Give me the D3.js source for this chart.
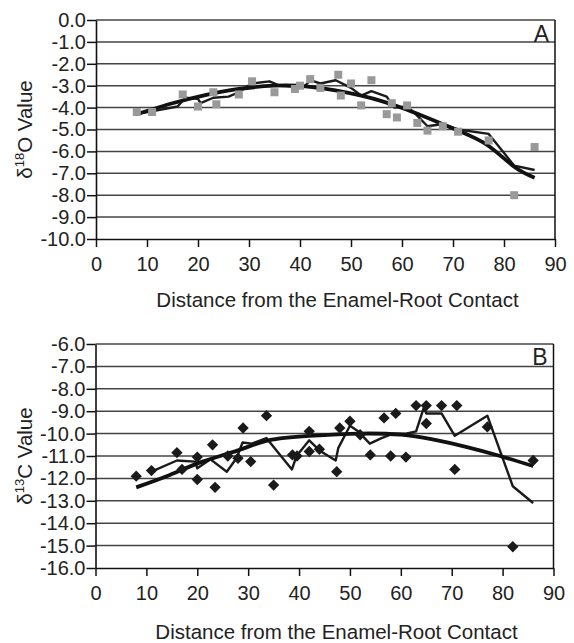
<!DOCTYPE html>
<html>
<head>
<meta charset="utf-8">
<script src="https://cdn.jsdelivr.net/npm/d3@7"></script>
<style>
  body { margin: 0; background: #fff; }
  svg text { font-family: "Liberation Sans", Arial, sans-serif; fill: #222; }
</style>
</head>
<body>
<svg id="chart" width="574" height="643"></svg>
<script>
// x ticks shared by both panels
const xTicks = [0, 10, 20, 30, 40, 50, 60, 70, 80, 90];

// Panel A - d18O samples (gray squares)
const distA = [8, 11, 17, 20, 23, 23.6, 28, 30.6, 35, 39, 40, 42, 44, 47.5, 48, 50, 52, 54, 57, 58, 59, 61, 63, 65, 68, 71, 77, 82, 86];
const d18O = [-4.2, -4.2, -3.4, -3.95, -3.3, -3.85, -3.4, -2.8, -3.3, -3.15, -3.0, -2.7, -3.1, -2.5, -3.45, -2.9, -3.9, -2.75, -4.3, -3.8, -4.45, -3.9, -4.7, -5.05, -4.85, -5.1, -5.5, -8.0, -5.8];

// Panel A - moving average line (thin)
const avgAx = [8, 16, 17.5, 20, 20.5, 23, 26, 28, 30.5, 34, 36, 39, 41, 42, 44, 47, 50, 52, 54, 57, 58.5, 61, 62.5, 65, 68, 71, 77, 82, 86];
const avgAy = [-4.3, -3.95, -3.55, -3.6, -3.8, -3.55, -3.5, -3.3, -2.9, -2.8, -3.0, -3.05, -3.0, -2.75, -2.9, -2.75, -3.1, -3.45, -3.25, -3.5, -4.0, -3.95, -4.25, -4.85, -4.75, -5.0, -5.2, -6.65, -6.85];

// Panel A - trend curve (thick)
const trendAx = [8, 15, 21, 28, 35, 42, 52, 61, 71, 77, 82, 86];
const trendAy = [-4.3, -3.8, -3.45, -3.15, -3.0, -3.05, -3.45, -4.1, -5.05, -5.75, -6.7, -7.2];

// Panel B - d13C samples (black diamonds)
const distB = [8, 11, 16, 17, 20, 20, 23, 23.5, 26, 28, 29, 30.5, 33.6, 35, 38.7, 39.6, 42, 42, 44, 47.4, 48, 50, 52, 54, 56.7, 58, 59, 61, 63, 65, 65, 68, 70.6, 71, 77, 82, 86];
const d13C = [-11.9, -11.65, -10.85, -11.6, -11.05, -12.05, -10.5, -12.4, -11.0, -11.1, -9.75, -11.25, -9.2, -12.3, -10.95, -11.0, -9.9, -10.8, -10.7, -11.7, -9.75, -9.45, -10.05, -10.95, -9.3, -11.0, -9.1, -11.05, -8.75, -8.75, -9.55, -8.75, -11.6, -8.75, -9.7, -15.05, -11.2];

// Panel B - moving average line (thin)
const avgBx = [11, 16, 19.6, 20, 22.6, 25.8, 27.7, 28.9, 30.7, 33.6, 35, 38.6, 39.5, 42, 44, 47.2, 47.7, 50, 51.6, 53.9, 56.2, 58.5, 61, 63, 64.5, 65, 68, 70.6, 77, 82, 86];
const avgBy = [-11.7, -11.2, -11.25, -11.55, -11.15, -11.7, -11.1, -10.4, -10.45, -10.2, -10.6, -11.6, -11.0, -10.3, -10.75, -11.2, -10.65, -9.65, -9.9, -10.45, -10.2, -10.0, -10.0, -9.9, -8.85, -9.1, -9.1, -10.1, -9.2, -12.35, -13.1];

// Panel B - trend curve (thick)
const trendBx = [8, 14.6, 21, 28, 34, 42, 52, 60, 66, 73, 79.5, 86];
const trendBy = [-12.4, -11.85, -11.25, -10.75, -10.3, -10.1, -10.0, -10.05, -10.25, -10.6, -11.0, -11.45];

const svg = d3.select("#chart");

function zip(xs, ys) {
  return xs.map((x, i) => ({ x: x, y: ys[i] }));
}

function drawPanel(p) {
  var x = d3.scaleLinear().domain([0, 90]).range([p.left, p.right]);
  var y = d3.scaleLinear().domain(p.yDomain).range([p.bottom, p.top]);
  var yTicks = d3.range(p.yDomain[0], p.yDomain[1] + 0.5, 1);

  var g = svg.append("g").attr("id", p.id);

  // horizontal grid
  g.append("g")
    .selectAll("line")
    .data(yTicks.slice(1))
    .enter()
    .append("line")
    .attr("x1", p.left)
    .attr("x2", p.right)
    .attr("y1", (d) => y(d))
    .attr("y2", (d) => y(d))
    .attr("stroke", "#444")
    .attr("stroke-width", 1.5);

  // right border
  g.append("line")
    .attr("x1", p.right).attr("x2", p.right)
    .attr("y1", p.top).attr("y2", p.bottom)
    .attr("stroke", "#111").attr("stroke-width", 1.5);

  // axes
  var yAxis = d3.axisLeft(y)
    .tickValues(yTicks)
    .tickSize(9)
    .tickSizeOuter(0)
    .tickPadding(1)
    .tickFormat((d) => d.toFixed(1));
  var ya = g.append("g").attr("transform", `translate(${p.left},0)`).call(yAxis);

  var xAxis = d3.axisBottom(x)
    .tickValues(xTicks)
    .tickSize(8)
    .tickSizeOuter(0)
    .tickPadding(10);
  var xa = g.append("g").attr("transform", `translate(0,${p.bottom})`).call(xAxis);

  [ya, xa].forEach((a) => {
    a.select(".domain").attr("stroke", "#111").attr("stroke-width", 1.6);
    a.selectAll(".tick line").attr("stroke", "#111").attr("stroke-width", 1.5);
    a.selectAll(".tick text")
      .style("font-family", '"Liberation Sans", Arial, sans-serif')
      .style("font-size", "20px")
      .attr("fill", "#222");
  });

  // thin moving-average line
  var line = d3.line().x((d) => x(d.x)).y((d) => y(d.y));
  g.append("path")
    .attr("d", line(zip(p.avgX, p.avgY)))
    .attr("fill", "none")
    .attr("stroke", "#1a1a1a")
    .attr("stroke-width", 2.4)
    .attr("stroke-linejoin", "round");

  // thick trend curve
  var curve = d3.line().curve(d3.curveNatural).x((d) => x(d.x)).y((d) => y(d.y));
  g.append("path")
    .attr("d", curve(zip(p.trendX, p.trendY)))
    .attr("fill", "none")
    .attr("stroke", "#111")
    .attr("stroke-width", 3.8);

  // points
  var pts = zip(p.ptX, p.ptY);
  if (p.marker === "square") {
    g.append("g")
      .selectAll("rect")
      .data(pts)
      .enter()
      .append("rect")
      .attr("x", (d) => x(d.x) - 4)
      .attr("y", (d) => y(d.y) - 4)
      .attr("width", 8)
      .attr("height", 8)
      .attr("fill", "#999");
  } else {
    g.append("g")
      .selectAll("path")
      .data(pts)
      .enter()
      .append("path")
      .attr("transform", (d) => `translate(${x(d.x)},${y(d.y)}) rotate(45)`)
      .attr("d", d3.symbol().type(d3.symbolSquare).size(64))
      .attr("fill", "#1a1a1a");
  }

  // panel letter
  g.append("text")
    .attr("x", p.right - 6)
    .attr("y", p.top + p.letterDy)
    .attr("text-anchor", "end")
    .style("font-size", "23px")
    .text(p.letter);

  // x title
  g.append("text")
    .attr("x", (p.left + p.right) / 2 + 12)
    .attr("y", p.titleY)
    .attr("text-anchor", "middle")
    .style("font-size", "20.5px")
    .text("Distance from the Enamel-Root Contact");

  // y title
  var yt = g.append("text")
    .attr("transform", `translate(32,${(p.top + p.bottom) / 2}) rotate(-90)`)
    .attr("text-anchor", "middle")
    .style("font-size", "20.5px");
  yt.append("tspan").text("δ");
  yt.append("tspan").attr("dy", -8).style("font-size", "13px").text(p.sup);
  yt.append("tspan").attr("dy", 8).text(p.elem + " Value");
}

drawPanel({
  id: "panel-a",
  left: 96, right: 555, top: 20, bottom: 239,
  yDomain: [-10, 0],
  ptX: distA, ptY: d18O, marker: "square",
  avgX: avgAx, avgY: avgAy,
  trendX: trendAx, trendY: trendAy,
  letter: "A", letterDy: 21.5,
  titleY: 307,
  sup: "18", elem: "O"
});

drawPanel({
  id: "panel-b",
  left: 95.5, right: 553.5, top: 344, bottom: 568,
  yDomain: [-16, -6],
  ptX: distB, ptY: d13C, marker: "diamond",
  avgX: avgBx, avgY: avgBy,
  trendX: trendBx, trendY: trendBy,
  letter: "B", letterDy: 20.5,
  titleY: 639,
  sup: "13", elem: "C"
});
</script>
</body>
</html>
